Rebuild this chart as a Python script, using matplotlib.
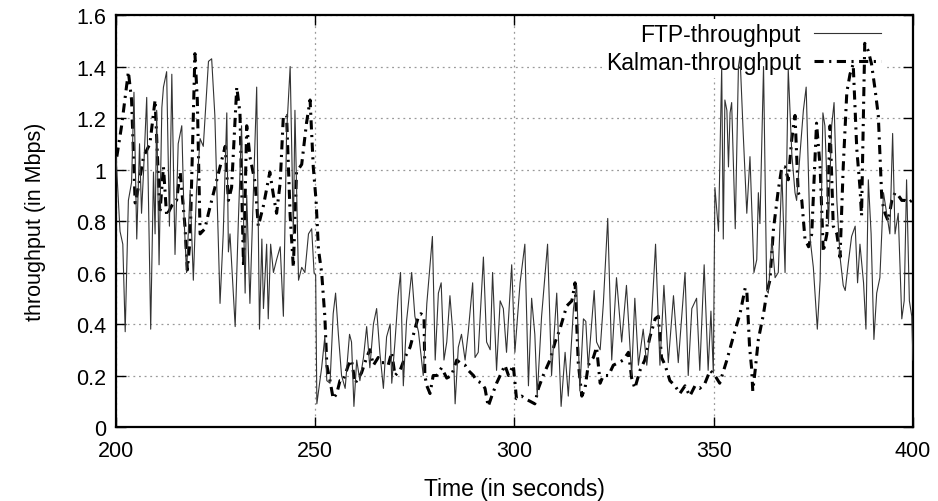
import matplotlib
matplotlib.use("Agg")
import matplotlib.pyplot as plt

# FTP throughput samples (time in s, Mbps)
ftp_t = [200.0, 201.0, 201.7, 202.3, 203.1, 203.9, 204.5, 205.2, 205.9, 206.4, 206.9, 207.7,
         208.7, 209.4, 209.8, 210.2, 210.8, 211.5, 211.9, 212.7, 213.4, 214.0, 214.8, 215.6,
         216.5, 217.1, 217.7, 218.6, 219.4, 220.2, 221.1, 221.9, 223.2, 224.0, 224.8, 226.1,
         226.9, 227.8, 228.2, 228.6, 229.9, 230.7, 231.5, 232.4, 232.8, 233.6, 234.5, 235.3,
         236.0, 236.6, 237.0, 237.8, 238.2, 238.8, 239.5, 240.3, 241.2, 242.0, 242.8, 243.7,
         244.5, 244.9, 245.8, 246.6, 247.4, 248.3, 249.1, 249.7, 250.1,
         250.4, 251.6, 252.4, 252.9, 253.7, 254.5, 255.1, 255.8, 256.6, 257.5, 258.6, 259.1,
         259.7, 260.4, 261.2, 262.1, 262.9, 263.7, 264.6, 265.4, 266.2, 267.1, 267.9, 268.8,
         269.2, 270.0, 270.8, 271.4, 272.1, 272.9, 274.2, 275.0, 275.9, 277.1, 278.0, 279.4,
         280.1, 280.9, 281.6, 282.3, 283.0, 283.8, 284.5, 285.1, 285.9, 286.7, 287.6, 288.4,
         289.5, 290.1, 290.9, 292.2, 293.0, 293.9, 294.5, 295.5, 296.4, 297.2, 298.0, 299.3,
         300.1, 301.4, 302.6, 303.5, 304.3, 305.1, 305.7, 306.8, 308.3, 309.3, 310.6, 311.7,
         312.7, 313.5, 314.8, 315.6, 316.4, 317.3, 317.9, 318.5, 320.0, 320.6, 321.5, 322.3,
         323.4, 324.4, 325.6, 326.9, 328.1, 329.4, 330.2, 331.1, 332.3, 333.2, 334.4, 335.4,
         336.5, 337.5, 338.6, 339.9, 341.1, 342.8, 343.6, 344.5, 345.7, 346.5, 347.6, 348.6,
         349.3, 349.9, 350.3, 351.2, 352.0, 352.4, 352.8, 353.3, 353.7, 354.1, 354.5, 355.4,
         356.2, 356.6, 357.4, 358.3, 359.1, 360.1, 360.8, 361.2, 361.6, 362.5, 363.3, 363.7,
         364.6, 365.4, 366.2, 367.1, 367.9, 368.7, 369.6, 370.4, 370.8, 371.7, 372.5, 373.2,
         374.2, 375.0, 376.0, 376.7, 377.4, 377.9, 378.8, 379.6, 380.2, 380.9, 381.7, 382.5,
         383.0, 383.8, 384.6, 385.5, 386.1, 386.7, 387.6, 388.2, 388.8, 389.5, 390.2, 390.9,
         391.7, 392.6, 393.4, 394.2, 394.9, 395.5, 396.3, 397.2, 397.8, 398.4, 399.1, 399.7,
         400.0]
ftp_v = [1.05, 0.76, 0.71, 0.37, 0.88, 0.95, 1.30, 0.73, 1.10, 0.83, 0.99, 1.28,
         0.38, 0.99, 0.75, 1.23, 0.63, 1.24, 1.32, 1.38, 0.78, 1.37, 0.67, 1.10,
         1.17, 0.80, 0.60, 0.92, 0.57, 0.92, 1.12, 1.09, 1.42, 1.43, 1.21, 0.48,
         0.75, 1.22, 0.68, 0.75, 0.39, 0.80, 1.17, 0.52, 0.90, 0.48, 0.93, 1.32,
         0.38, 0.73, 0.46, 0.71, 0.42, 0.71, 0.60, 0.65, 0.70, 0.43, 1.14, 1.40,
         0.75, 1.23, 0.57, 0.62, 0.60, 0.75, 0.77, 0.60, 0.59,
         0.09, 0.23, 0.35, 0.18, 0.17, 0.44, 0.52, 0.36, 0.20, 0.15, 0.36, 0.33,
         0.08, 0.26, 0.18, 0.27, 0.39, 0.23, 0.40, 0.46, 0.29, 0.15, 0.35, 0.40,
         0.17, 0.33, 0.51, 0.60, 0.16, 0.41, 0.60, 0.43, 0.37, 0.20, 0.48, 0.74,
         0.26, 0.52, 0.56, 0.26, 0.33, 0.51, 0.37, 0.09, 0.31, 0.36, 0.26, 0.37,
         0.56, 0.27, 0.29, 0.66, 0.33, 0.30, 0.60, 0.22, 0.49, 0.46, 0.29, 0.63,
         0.29, 0.56, 0.71, 0.16, 0.50, 0.36, 0.12, 0.43, 0.71, 0.20, 0.52, 0.08,
         0.29, 0.12, 0.46, 0.55, 0.14, 0.42, 0.41, 0.23, 0.53, 0.33, 0.30, 0.48,
         0.81, 0.26, 0.58, 0.33, 0.55, 0.20, 0.50, 0.24, 0.38, 0.24, 0.42, 0.71,
         0.24, 0.55, 0.25, 0.51, 0.25, 0.60, 0.20, 0.46, 0.50, 0.22, 0.63, 0.22,
         0.45, 0.21, 0.93, 0.76, 1.40, 0.73, 1.27, 1.23, 1.01, 1.22, 1.26, 0.77,
         1.40, 1.44, 1.14, 0.83, 1.05, 0.60, 0.65, 0.91, 0.79, 1.40, 0.53, 0.52,
         0.73, 0.58, 0.60, 0.99, 0.60, 1.39, 1.06, 0.91, 0.88, 1.07, 1.23, 1.32,
         0.73, 0.62, 0.38, 0.57, 1.22, 1.17, 0.79, 1.17, 1.26, 0.88, 0.66, 0.55,
         0.53, 0.64, 0.74, 0.78, 0.56, 0.71, 0.56, 0.38, 0.96, 0.75, 0.34, 0.52,
         0.58, 0.91, 0.83, 0.75, 1.14, 0.75, 0.83, 0.42, 0.49, 0.96, 0.49, 0.43,
         0.26]

# Kalman-filtered throughput samples
kal_t = [200.2, 201.4, 203.1, 203.9, 204.8, 205.6, 206.9, 208.5, 209.8, 211.0, 211.9, 212.7,
         214.0, 215.2, 216.1, 217.3, 217.9, 218.6, 219.8, 220.4, 221.1, 222.3, 223.2, 224.0,
         226.1, 227.4, 228.2, 229.0, 230.3, 231.1, 232.0, 232.8, 233.6, 234.9, 235.7, 237.0,
         238.6, 239.5, 240.3, 241.2, 242.0, 242.8, 243.7, 244.5, 245.3, 246.6, 247.8, 248.7,
         249.5, 250.2, 250.8, 251.6, 252.4, 252.9, 253.7, 254.5, 255.4, 256.2, 257.0, 258.3,
         259.1, 260.0, 260.8, 261.6, 262.9, 263.7, 264.6, 265.8, 266.7, 267.5, 268.3, 269.2,
         270.0, 271.3, 272.5, 273.8, 275.0, 275.9, 276.5, 277.3, 277.5, 278.0, 278.8, 279.6,
         280.5, 281.7, 283.0, 284.2, 285.5, 286.3, 287.6, 288.4, 289.7, 290.5, 291.8, 292.6,
         293.4, 294.3, 295.5, 296.4, 297.6, 298.5, 299.7, 300.5, 301.8, 302.6, 303.9, 305.1,
         306.0, 307.2, 308.9, 310.2, 311.4, 313.1, 314.4, 315.2, 316.0, 316.9, 317.7, 318.5,
         319.8, 320.6, 321.5, 322.3, 323.6, 324.8, 326.1, 327.3, 328.6, 329.4, 330.2, 331.5,
         332.7, 334.0, 335.3, 336.1, 336.9, 337.8, 339.0, 340.3, 341.5, 342.8, 344.0, 345.3,
         346.5, 347.8, 349.1, 350.3, 351.5, 353.3, 354.9, 356.6, 357.9, 358.3, 359.0, 359.5,
         359.8, 360.4, 361.2, 362.5, 363.3, 364.1, 365.0, 366.2, 367.1, 367.9, 368.7, 369.6,
         370.4, 371.2, 372.1, 372.9, 373.8, 374.6, 375.8, 376.7, 377.5, 378.4, 379.2, 380.0,
         380.9, 381.7, 382.5, 383.4, 384.2, 385.0, 385.9, 386.7, 387.1, 387.9, 388.8, 389.6,
         390.5, 391.3, 392.2, 393.0, 393.8, 394.7, 395.5, 396.3, 397.2, 398.0, 398.8, 399.7]
kal_v = [1.05, 1.17, 1.38, 1.27, 0.87, 0.93, 1.05, 1.10, 1.27, 0.83, 1.01, 0.82,
         0.86, 0.88, 0.99, 0.78, 0.61, 0.73, 1.45, 1.27, 0.75, 0.77, 0.83, 0.88,
         1.01, 1.09, 0.88, 0.93, 1.32, 1.22, 0.62, 1.17, 1.05, 0.95, 0.78, 0.86,
         0.99, 0.90, 0.83, 0.95, 1.21, 1.21, 0.82, 0.62, 0.99, 1.02, 1.18, 1.27,
         1.01, 0.88, 0.69, 0.60, 0.43, 0.24, 0.18, 0.11, 0.13, 0.18, 0.18, 0.24,
         0.26, 0.17, 0.19, 0.21, 0.27, 0.30, 0.24, 0.27, 0.25, 0.25, 0.24, 0.29,
         0.20, 0.22, 0.27, 0.31, 0.38, 0.43, 0.44, 0.43, 0.20, 0.16, 0.13, 0.20,
         0.20, 0.23, 0.19, 0.20, 0.26, 0.25, 0.24, 0.22, 0.20, 0.18, 0.17, 0.15,
         0.08, 0.12, 0.17, 0.20, 0.24, 0.20, 0.24, 0.11, 0.12, 0.11, 0.10, 0.09,
         0.15, 0.20, 0.26, 0.33, 0.38, 0.47, 0.49, 0.56, 0.25, 0.12, 0.15, 0.24,
         0.27, 0.31, 0.17, 0.20, 0.20, 0.24, 0.25, 0.26, 0.29, 0.19, 0.15, 0.22,
         0.26, 0.35, 0.42, 0.43, 0.27, 0.24, 0.18, 0.16, 0.13, 0.16, 0.12, 0.16,
         0.15, 0.17, 0.22, 0.20, 0.17, 0.26, 0.35, 0.44, 0.54, 0.53, 0.31, 0.23,
         0.14, 0.22, 0.34, 0.44, 0.52, 0.57, 0.77, 0.92, 1.01, 1.01, 0.96, 1.12,
         1.21, 0.91, 0.88, 0.73, 0.70, 0.75, 1.18, 1.01, 0.68, 0.75, 1.17, 0.78,
         0.75, 0.66, 1.01, 1.30, 1.37, 1.41, 1.08, 0.93, 0.82, 1.49, 1.46, 1.41,
         1.31, 1.21, 0.88, 0.83, 0.80, 0.88, 0.91, 0.90, 0.88, 0.88, 0.87, 0.88]

x_ticks = [200, 250, 300, 350, 400]
y_ticks = [0, 0.2, 0.4, 0.6, 0.8, 1.0, 1.2, 1.4, 1.6]
y_labels = ["0", "0.2", "0.4", "0.6", "0.8", "1", "1.2", "1.4", "1.6"]

plt.rcParams["font.family"] = ["Liberation Sans", "DejaVu Sans"]

fig = plt.figure(figsize=(9.38, 5.02), dpi=100)
ax = fig.add_axes([0.1237, 0.1474, 0.8496, 0.8207])

ax.plot(ftp_t, ftp_v, color="#333333", lw=0.8, label="FTP-throughput", zorder=3)
ax.plot(kal_t, kal_v, color="black", lw=2.2, ls=(0, (3, 1.8, 0.7, 1.8)),
        label="Kalman-throughput", zorder=2.5)

ax.set_xlim(200, 400)
ax.set_ylim(0, 1.6)
ax.set_xticks(x_ticks)
ax.set_yticks(y_ticks)
ax.set_yticklabels(y_labels)
ax.tick_params(direction="in", length=7, width=1, top=True, right=True, labelsize=15.5)
ax.tick_params(axis="x", pad=9)
ax.tick_params(axis="y", pad=7)
ax.grid(True, color="#999999", ls=(0, (1.5, 3)), lw=0.9)
ax.set_axisbelow(True)
for s in ax.spines.values():
    s.set_linewidth(1.6)

ax.set_xlabel("Time (in seconds)", fontsize=16.5, labelpad=12)
ax.set_ylabel("throughput (in Mbps)", fontsize=15.5, labelpad=22)

leg = ax.legend(loc="upper right", bbox_to_anchor=(0.964, 0.99), markerfirst=False,
                fontsize=16.5, frameon=True, fancybox=False, edgecolor="none",
                facecolor="white", framealpha=1, handlelength=2.9, handletextpad=0.6,
                labelspacing=0.25, borderpad=0.15, borderaxespad=0)
leg.set_zorder(1.5)

plt.savefig("out.png", dpi=100)
